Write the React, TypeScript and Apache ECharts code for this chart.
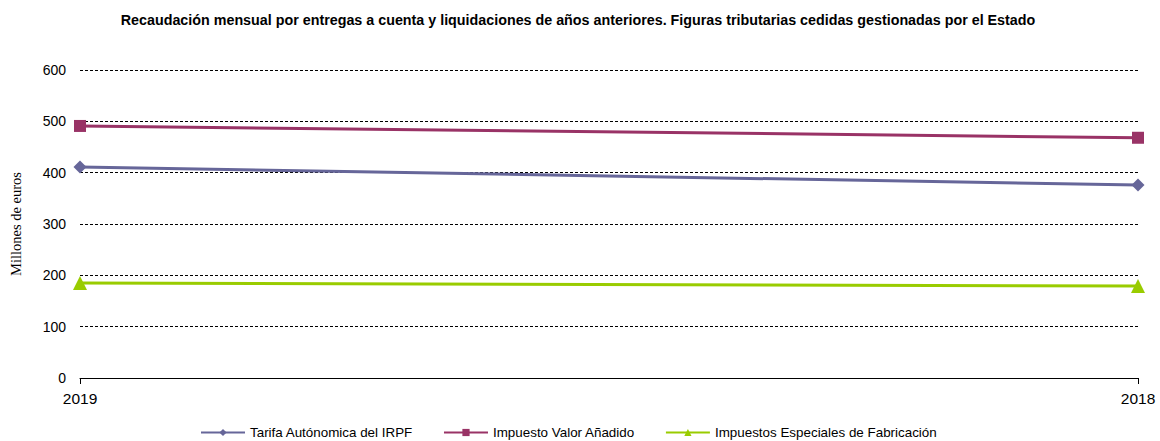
import React, { useEffect, useRef } from "react";
import * as echarts from "echarts";

const categories = ["2019", "2018"];
const irpf = [411, 376];
const iva = [491, 468];
const iiee = [185, 179];
const seriesNames = [
  "Tarifa Autónomica del IRPF",
  "Impuesto Valor Añadido",
  "Impuestos Especiales de Fabricación",
];
const titleText =
  "Recaudación mensual por entregas a cuenta y liquidaciones de años anteriores. Figuras tributarias cedidas gestionadas por el Estado";

export default function App() {
  const ref = useRef<HTMLDivElement>(null);
  useEffect(() => {
    if (!ref.current) return;
    const chart = echarts.init(ref.current, null, { renderer: "svg" });
    const font = "Arial, 'Liberation Sans', sans-serif";
    chart.setOption({
      animation: false,
      backgroundColor: "#ffffff",
      title: {
        text: titleText,
        left: 573,
        textAlign: "center",
        top: 8,
        textStyle: { fontFamily: font, fontSize: 14.3, fontWeight: "bold", color: "#000" },
      },
      grid: { left: 80, right: 22, top: 70, bottom: 63, containLabel: false },
      legend: {
        top: 425,
        left: 200,
        padding: 0,
        itemGap: 30,
        itemWidth: 44,
        itemHeight: 9,
        textStyle: { fontFamily: font, fontSize: 13.4, color: "#000", lineHeight: 15 },
        data: seriesNames,
      },
      xAxis: {
        type: "category",
        data: categories,
        boundaryGap: false,
        axisLine: { lineStyle: { color: "#000", width: 1 } },
        axisTick: { show: true, length: 6, alignWithLabel: true, lineStyle: { color: "#000" } },
        axisLabel: { fontFamily: font, fontSize: 15.5, color: "#000", margin: 12 },
        splitLine: { show: false },
      },
      yAxis: {
        type: "value",
        min: 0,
        max: 600,
        interval: 100,
        name: "Millones de euros",
        nameLocation: "middle",
        nameGap: 57,
        nameTextStyle: { fontFamily: "'Liberation Serif', 'DejaVu Serif', serif", fontSize: 14.5, color: "#000" },
        axisLine: { show: false },
        axisTick: { show: false },
        axisLabel: { fontFamily: font, fontSize: 14, color: "#000", margin: 14 },
        splitLine: { lineStyle: { color: "#000", type: [3, 2], width: 1 } },
      },
      series: [
        {
          name: seriesNames[0],
          type: "line",
          data: irpf,
          symbol: "diamond",
          symbolSize: 13,
          lineStyle: { width: 3, color: "#666699" },
          itemStyle: { color: "#666699" },
        },
        {
          name: seriesNames[1],
          type: "line",
          data: iva,
          symbol: "rect",
          symbolSize: 12,
          lineStyle: { width: 3, color: "#993366" },
          itemStyle: { color: "#993366" },
        },
        {
          name: seriesNames[2],
          type: "line",
          data: iiee,
          symbol: "triangle",
          symbolSize: 14,
          lineStyle: { width: 3, color: "#99CC00" },
          itemStyle: { color: "#99CC00" },
        },
      ],
    });
    return () => chart.dispose();
  }, []);
  return (
    <div
      ref={ref}
      style={{ position: "fixed", left: 0, top: 0, width: 1160, height: 441 }}
    />
  );
}
